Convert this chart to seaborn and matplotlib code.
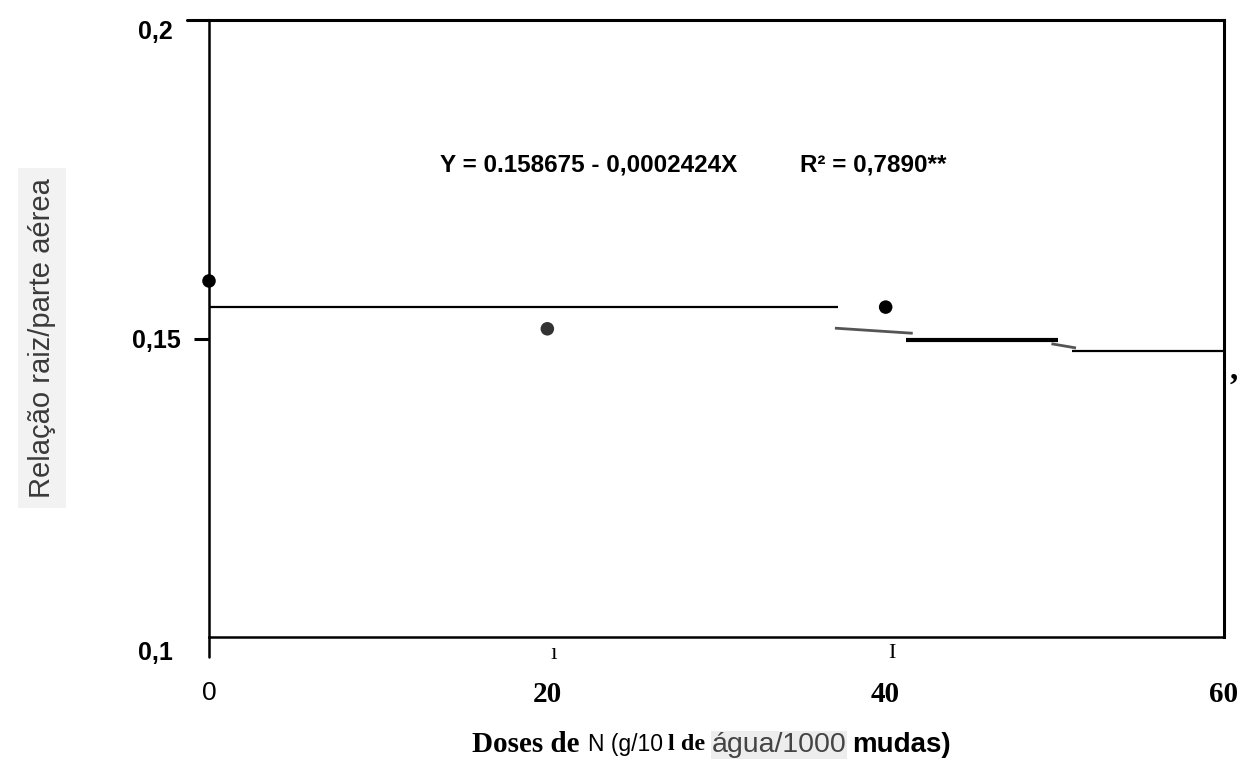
import numpy as np
import seaborn as sns
import matplotlib.pyplot as plt

sns.set_theme(style="white")
plt.rcParams['font.family'] = ['Liberation Sans', 'DejaVu Sans']
plt.rcParams['text.color'] = 'black'
plt.rcParams['xtick.color'] = 'black'
plt.rcParams['ytick.color'] = 'black'

# observed means (dose of N, root/shoot ratio)
doses = [0, 20, 40]
relacao = [0.1591, 0.1516, 0.1550]

# fitted line, as it is drawn in the figure (pieces of the trend line)
seg_x0 = [0.0, 37.0, 41.2, 49.8, 51.0]
seg_x1 = [37.2, 41.6, 50.2, 51.25, 60.0]
seg_y0 = [0.1550, 0.1517, 0.1498, 0.1492, 0.1480]
seg_y1 = [0.1550, 0.1509, 0.1498, 0.1485, 0.1480]
seg_color = ['black', '#555555', 'black', '#555555', 'black']
seg_lw = [1.6, 2.0, 3.0, 2.0, 1.6]

xticks = [0, 20, 40, 60]
xtick_labels = ['0', '20', '40', '60']

equation = 'Y = 0.158675 - 0,0002424X'
r2_text = 'R² = 0,7890**'


# the scanned axis is not quite linear: 0.15 sits a bit below the middle
def forward(v):
    return np.interp(v, [0.1, 0.15, 0.2], [0.0, 298.0, 617.0])


def inverse(p):
    return np.interp(p, [0.0, 298.0, 617.0], [0.1, 0.15, 0.2])


fig = plt.figure(figsize=(12.49, 7.63), dpi=100)
ax = fig.add_axes([209 / 1249, 126 / 763, 1015 / 1249, 617 / 763])

ax.set_yscale('function', functions=(forward, inverse))
ax.set_xlim(0, 60)
ax.set_ylim(0.1, 0.2)

for x0, x1, y0, y1, c, lw in zip(seg_x0, seg_x1, seg_y0, seg_y1, seg_color, seg_lw):
    ax.plot([x0, x1], [y0, y1], color=c, lw=lw, solid_capstyle='butt')

sns.scatterplot(x=doses, y=relacao, ax=ax, s=95, color='black',
                edgecolor='none', clip_on=False, zorder=5)
# the middle point is a little lighter in the scan
ax.collections[-1].set_facecolor(['black', '#333333', 'black'])

# spines
for side in ['top', 'right']:
    ax.spines[side].set_linewidth(2.2)
for side in ['left', 'bottom']:
    ax.spines[side].set_linewidth(1.8)
for s in ax.spines.values():
    s.set_color('black')
# left spine runs a bit below the x axis, top spine a bit past the left one
ax.plot([0, 0], [-0.032, 0], transform=ax.get_xaxis_transform(),
        color='black', lw=1.8, clip_on=False)
ax.plot([-0.0217, 0], [0.2, 0.2], transform=ax.get_yaxis_transform(),
        color='black', lw=2.2, clip_on=False)

# y ticks
ax.set_yticks([0.15])
ax.set_yticklabels(['0,15'], fontsize=18, fontweight='bold')
ax.tick_params(axis='y', left=True, length=11, width=2.2, pad=9, color='black')
ax.text(-0.036, 0.2, '0,2', transform=ax.get_yaxis_transform(), ha='right',
        va='top', fontsize=18, fontweight='bold')
ax.text(-0.036, -0.026, '0,1', transform=ax.transAxes, ha='right',
        va='center', fontsize=18, fontweight='bold')

# x ticks
ax.set_xticks(xticks)
ax.set_xticklabels(xtick_labels, fontsize=21, fontweight='bold',
                   family='Liberation Serif')
ax.tick_params(axis='x', bottom=False, pad=26)
first = ax.get_xticklabels()[0]
first.set_fontfamily('Liberation Sans')
first.set_fontweight('normal')
first.set_fontsize(19)

# stray marks from the scan
ax.text(20.35, -0.027, 'ı', transform=ax.get_xaxis_transform(), ha='center',
        va='center', fontsize=17, family='Liberation Serif')
ax.text(40.35, -0.027, 'I', transform=ax.get_xaxis_transform(), ha='center',
        va='center', fontsize=16, family='Liberation Serif')
fig.text(1234 / 1249, 1 - 370 / 763, ',', ha='center', va='center',
         fontsize=24, fontweight='bold', family='Liberation Serif')

# regression equation
fig.text(440 / 1249, 1 - 165 / 763, equation, ha='left', va='center',
         fontsize=17.5, fontweight='bold')
fig.text(800 / 1249, 1 - 165 / 763, r2_text, ha='left', va='center',
         fontsize=17.5, fontweight='bold')

# y label
fig.text(42 / 1249, 1 - 338 / 763, 'Relação raiz/parte aérea', rotation=90,
         ha='center', va='center', fontsize=21, color='#3a3a3a',
         bbox=dict(facecolor='#f2f2f2', edgecolor='none', pad=7))

# x label, built from pieces like the pasted original
ylab = 1 - 745 / 763
fig.text(472 / 1249, ylab, 'Doses de', ha='left', va='center', fontsize=21,
         fontweight='bold', family='Liberation Serif')
fig.text(588 / 1249, ylab, 'N (g/10', ha='left', va='center', fontsize=16.5)
fig.text(668 / 1249, ylab, 'l de', ha='left', va='center', fontsize=17.5,
         fontweight='bold', family='Liberation Serif')
fig.text(712 / 1249, ylab, 'água/1000', ha='left', va='center', fontsize=20.5,
         color='#444444',
         bbox=dict(facecolor='#ededed', edgecolor='none', pad=0.5))
fig.text(852 / 1249, ylab, 'mudas)', ha='left', va='center', fontsize=20,
         fontweight='bold')

plt.savefig('out.png', dpi=100)
plt.close()
